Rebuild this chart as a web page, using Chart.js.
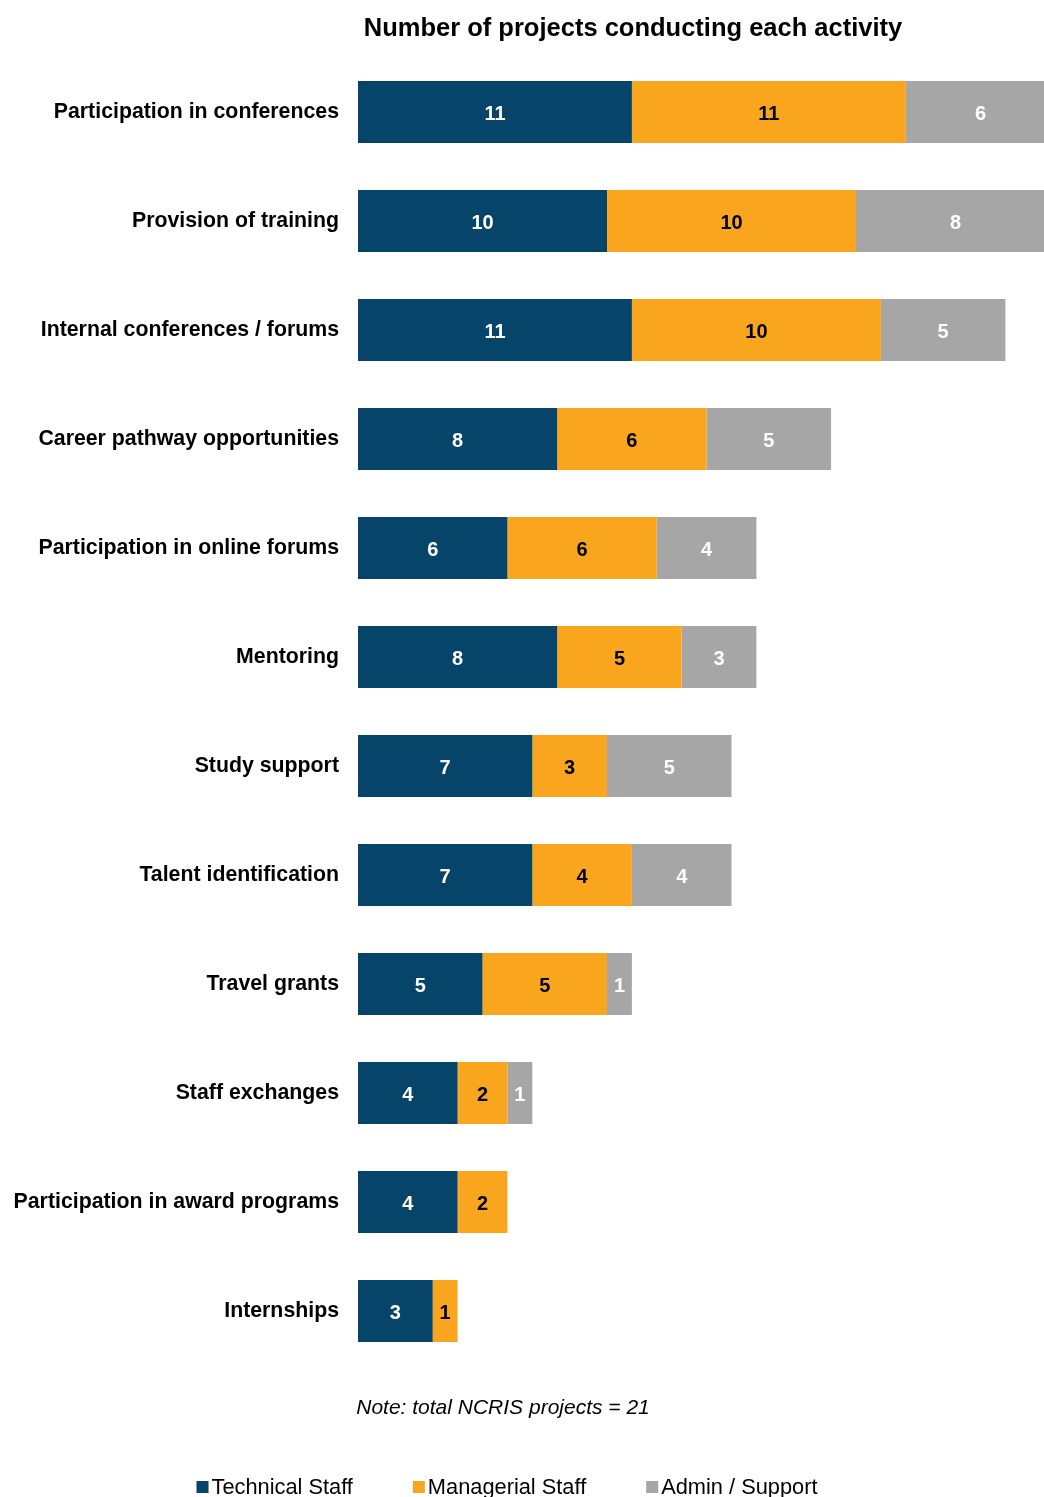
<!DOCTYPE html>
<html>
<head>
<meta charset="utf-8">
<script src="https://cdn.jsdelivr.net/npm/chart.js@4.4.1/dist/chart.umd.min.js"></script>
<style>
  html, body { margin: 0; padding: 0; background: #fff; }
  #wrap { width: 1044px; height: 1497px; position: relative; }
</style>
</head>
<body>
<div id="wrap"><canvas id="chart"></canvas></div>
<script>
var activities = [
  'Participation in conferences',
  'Provision of training',
  'Internal conferences / forums',
  'Career pathway opportunities',
  'Participation in online forums',
  'Mentoring',
  'Study support',
  'Talent identification',
  'Travel grants',
  'Staff exchanges',
  'Participation in award programs',
  'Internships'
];
var technical  = [11, 10, 11, 8, 6, 8, 7, 7, 5, 4, 4, 3];
var managerial = [11, 10, 10, 6, 6, 5, 3, 4, 5, 2, 2, 1];
var admin      = [6, 8, 5, 5, 4, 3, 5, 4, 1, 1, 0, 0];
var seriesNames = ['Technical Staff', 'Managerial Staff', 'Admin / Support'];

var colors = ['#064469', '#F9A61E', '#A6A6A6'];
var valueColors = ['#ffffff', '#000000', '#ffffff'];
var FONT = "'Liberation Sans', Arial, sans-serif";

// numbers in the middle of each segment
var valueLabels = {
  id: 'valueLabels',
  afterDatasetsDraw: function(chart) {
    var ctx = chart.ctx;
    ctx.save();
    ctx.font = 'bold 20px ' + FONT;
    ctx.textAlign = 'center';
    ctx.textBaseline = 'middle';
    chart.data.datasets.forEach(function(ds, di) {
      var meta = chart.getDatasetMeta(di);
      meta.data.forEach(function(bar, i) {
        var v = ds.data[i];
        if (!v) return;
        ctx.fillStyle = valueColors[di];
        ctx.fillText(v, (bar.x + bar.base) / 2, bar.y + 2);
      });
    });
    ctx.restore();
  }
};

// title, footnote and legend row
var extras = {
  id: 'extras',
  afterDraw: function(chart) {
    var ctx = chart.ctx;
    ctx.save();
    ctx.fillStyle = '#000';
    ctx.textBaseline = 'middle';
    ctx.textAlign = 'center';
    ctx.font = 'bold 25.5px ' + FONT;
    ctx.fillText('Number of projects conducting each activity', 633, 29);

    ctx.font = 'italic 21px ' + FONT;
    ctx.fillText('Note: total NCRIS projects = 21', 503, 1408);

    ctx.font = '21.8px ' + FONT;
    ctx.textAlign = 'left';
    var gap = 60, box = 12;
    var widths = seriesNames.map(function(n) { return box + 3 + ctx.measureText(n).width; });
    var total = widths.reduce(function(a, b) { return a + b; }, 0) + gap * (widths.length - 1);
    var x = 507 - total / 2;
    seriesNames.forEach(function(n, i) {
      ctx.fillStyle = colors[i];
      ctx.fillRect(x, 1481, box, box);
      ctx.fillStyle = '#000';
      ctx.fillText(n, x + box + 3, 1488);
      x += widths[i] + gap;
    });
    ctx.restore();
  }
};

var ctx = document.getElementById('chart').getContext('2d');
new Chart(ctx, {
  type: 'bar',
  data: {
    labels: activities,
    datasets: [
      { label: seriesNames[0], data: technical, backgroundColor: colors[0] },
      { label: seriesNames[1], data: managerial, backgroundColor: colors[1] },
      { label: seriesNames[2], data: admin, backgroundColor: colors[2] }
    ]
  },
  options: {
    indexAxis: 'y',
    responsive: true,
    maintainAspectRatio: false,
    animation: false,
    layout: { padding: { top: 57.5, bottom: 131.5, left: 0, right: 0 } },
    datasets: {
      bar: { barPercentage: 62 / 109, categoryPercentage: 1, borderWidth: 0 }
    },
    scales: {
      x: {
        stacked: true,
        display: false,
        min: 0,
        max: 27.55
      },
      y: {
        stacked: true,
        grid: { display: false, drawTicks: false },
        border: { display: false },
        ticks: {
          color: '#000',
          padding: 19,
          font: { family: FONT, size: 21.3, weight: 'bold' }
        },
        afterFit: function(scale) { scale.width = 358; }
      }
    },
    plugins: {
      legend: { display: false },
      title: { display: false },
      tooltip: { enabled: false }
    }
  },
  plugins: [valueLabels, extras]
});
</script>
</body>
</html>
